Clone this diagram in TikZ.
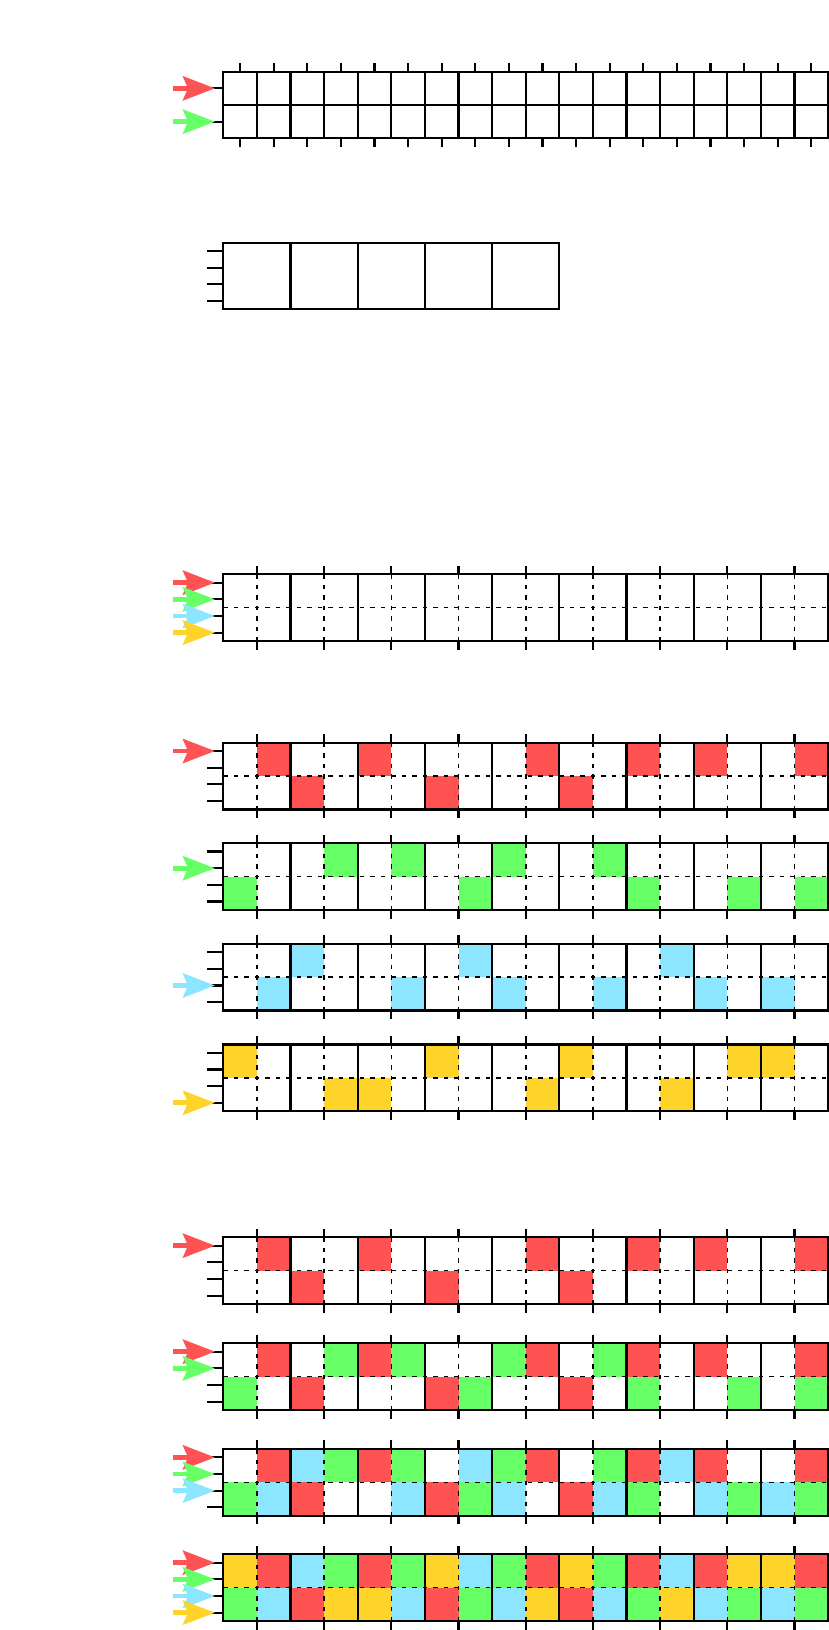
\documentclass[tikz,border=0pt]{standalone}
\usetikzlibrary{arrows.meta}
\definecolor{cR}{HTML}{FF5252}
\definecolor{cG}{HTML}{66FF66}
\definecolor{cB}{HTML}{8CE6FF}
\definecolor{cY}{HTML}{FFD42A}
% stubs: top y, prefix, number of stubs, stub spacing
\newcommand{\mystubs}[4]{%
  \foreach \j in {1,...,#3} {%
    \coordinate (#2s\j) at (223.3,{#1+#4*\j-#4/2});
    \coordinate (#2t\j) at (215,{#1+#4*\j-#4/2});
    \coordinate (#2a\j) at (173.3,{#1+#4*\j-#4/2});
    \draw[tk] (#2s\j) -- ++(-16,0);
  }}
% coloured cells: top y, colour, row (0/1), list of columns
\newcommand{\cellfill}[4]{%
  \foreach \c in {#4} {\fill[#2] ({223.3+33.6*\c},{#1+33.35*#3}) rectangle ++(33.6,33.35);}}
% dashed 2x18 grid: top y, prefix
\newcommand{\dgrid}[2]{%
  \foreach \k in {0,...,8} {%
    \draw[tk] ({223.3+33.6*(2*\k+1)},{#1}) -- ++(0,-8.7);
    \draw[tk] ({223.3+33.6*(2*\k+1)},{#1+66.7}) -- ++(0,8.7);
    \draw[dl] ({223.3+33.6*(2*\k+1)},{#1}) -- ++(0,66.7);
  }
  \draw[dl] (223.3,{#1+33.35}) -- ++(604.8,0);
  \foreach \k in {1,...,8} {\draw[gl] ({223.3+67.2*\k},{#1}) -- ++(0,66.7);}
  \draw[gl] (223.3,{#1}) rectangle ++(604.8,66.7);
  \mystubs{#1}{#2}{4}{16.675}}
\begin{document}
\begin{tikzpicture}[x=1pt,y=-1pt,
  gl/.style={line width=2.2pt,black},
  dl/.style={line width=1.6pt,black,dash pattern=on 4.5pt off 6pt},
  tk/.style={line width=2.2pt,black},
  arr/.style={line width=4.7pt,-{Stealth[length=32pt,width=24pt,inset=5pt]}}]
\useasboundingbox[fill=white] (0,0) rectangle (829,1630);

% ---------- Section 1 ----------
\foreach \k in {0,...,17} {%
  \draw[tk] ({223.3+33.6*\k+16.8},71.7) -- ++(0,-9);
  \draw[tk] ({223.3+33.6*\k+16.8},138.3) -- ++(0,9);
}
\foreach \k in {1,...,17} {\draw[gl] ({223.3+33.6*\k},71.7) -- ++(0,66.6);}
\draw[gl] (223.3,105) -- ++(604.8,0);
\draw[gl] (223.3,71.7) rectangle ++(604.8,66.6);
\mystubs{71.7}{A}{2}{33.3}
\draw[arr,cR] (Aa1) -- (At1);
\draw[arr,cG] (Aa2) -- (At2);

% ---------- Section 2 ----------
\foreach \k in {1,...,4} {\draw[gl] ({223.3+67.2*\k},242.7) -- ++(0,66.6);}
\draw[gl] (223.3,242.7) rectangle ++(336,66.6);
\mystubs{242.7}{B}{4}{16.65}

% ---------- Section 3 ----------
\dgrid{574.3}{C}
\draw[arr,cR] (Ca1) -- (Ct1);
\draw[arr,cG] (Ca2) -- (Ct2);
\draw[arr,cB] (Ca3) -- (Ct3);
\draw[arr,cY] (Ca4) -- (Ct4);

% ---------- Section 4 ----------
\cellfill{742.7}{cR}{0}{1,4,9,12,14,17}
\cellfill{742.7}{cR}{1}{2,6,10}
\dgrid{742.7}{D}
\draw[arr,cR] (Da1) -- (Dt1);

\cellfill{843.2}{cG}{0}{3,5,8,11}
\cellfill{843.2}{cG}{1}{0,7,12,15,17}
\dgrid{843.2}{E}
\draw[arr,cG] (Ea2) -- (Et2);

\cellfill{943.8}{cB}{0}{2,7,13}
\cellfill{943.8}{cB}{1}{1,5,8,11,14,16}
\dgrid{943.8}{F}
\draw[arr,cB] (Fa3) -- (Ft3);

\cellfill{1044.4}{cY}{0}{0,6,10,15,16}
\cellfill{1044.4}{cY}{1}{3,4,9,13}
\dgrid{1044.4}{G}
\draw[arr,cY] (Ga4) -- (Gt4);

% ---------- Section 5 ----------
\cellfill{1237.3}{cR}{0}{1,4,9,12,14,17}
\cellfill{1237.3}{cR}{1}{2,6,10}
\dgrid{1237.3}{H}
\draw[arr,cR] (Ha1) -- (Ht1);

\cellfill{1343.3}{cR}{0}{1,4,9,12,14,17}
\cellfill{1343.3}{cR}{1}{2,6,10}
\cellfill{1343.3}{cG}{0}{3,5,8,11}
\cellfill{1343.3}{cG}{1}{0,7,12,15,17}
\dgrid{1343.3}{I}
\draw[arr,cR] (Ia1) -- (It1);
\draw[arr,cG] (Ia2) -- (It2);

\cellfill{1449}{cR}{0}{1,4,9,12,14,17}
\cellfill{1449}{cR}{1}{2,6,10}
\cellfill{1449}{cG}{0}{3,5,8,11}
\cellfill{1449}{cG}{1}{0,7,12,15,17}
\cellfill{1449}{cB}{0}{2,7,13}
\cellfill{1449}{cB}{1}{1,5,8,11,14,16}
\dgrid{1449}{J}
\draw[arr,cR] (Ja1) -- (Jt1);
\draw[arr,cG] (Ja2) -- (Jt2);
\draw[arr,cB] (Ja3) -- (Jt3);

\cellfill{1554.3}{cR}{0}{1,4,9,12,14,17}
\cellfill{1554.3}{cR}{1}{2,6,10}
\cellfill{1554.3}{cG}{0}{3,5,8,11}
\cellfill{1554.3}{cG}{1}{0,7,12,15,17}
\cellfill{1554.3}{cB}{0}{2,7,13}
\cellfill{1554.3}{cB}{1}{1,5,8,11,14,16}
\cellfill{1554.3}{cY}{0}{0,6,10,15,16}
\cellfill{1554.3}{cY}{1}{3,4,9,13}
\dgrid{1554.3}{K}
\draw[arr,cR] (Ka1) -- (Kt1);
\draw[arr,cG] (Ka2) -- (Kt2);
\draw[arr,cB] (Ka3) -- (Kt3);
\draw[arr,cY] (Ka4) -- (Kt4);
\end{tikzpicture}
\end{document}
